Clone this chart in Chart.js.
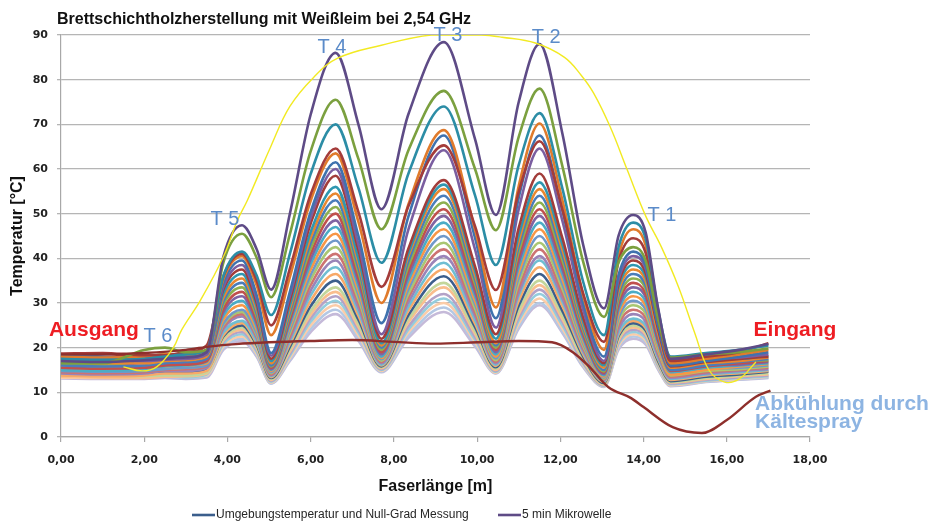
<!DOCTYPE html>
<html><head><meta charset="utf-8">
<script src="https://cdn.jsdelivr.net/npm/chart.js@4.4.1/dist/chart.umd.min.js"></script>
<style>html,body{margin:0;padding:0;background:#fff;}canvas{display:block;}</style>
</head><body>
<canvas id="c" width="933" height="529"></canvas>
<script>
// ---- Daten ----
const faserlaenge = [0,1,2,2.5,3,3.5,3.9,4.35,4.7,5.05,5.5,6.0,6.6,7.15,7.7,8.35,9.2,9.95,10.45,11.0,11.5,12.05,12.55,13.05,13.4,13.75,14.05,14.35,14.65,15.5,16.3,17.0];
const kurve01 = [17.0,16.8,17.2,17.5,17.8,19.0,40.3,47.4,42.1,33.0,50.0,72.2,86.0,69.9,51.0,72.3,88.4,66.7,49.7,75.0,88.0,67.9,43.0,28.8,45.1,49.7,45.8,28.8,17.5,18.5,19.5,20.8];
const kurve02 = [16.5,16.5,19.5,20.0,19.0,19.5,39.0,45.5,40.2,31.3,45.4,64.0,75.5,62.2,46.5,64.2,77.5,60.0,46.3,67.2,78.0,60.6,39.2,26.9,39.1,42.5,39.5,26.4,17.8,18.5,19.0,19.8];
const kurve03 = [17.5,17.3,17.5,18.0,18.5,19.5,36.0,41.5,36.2,27.3,41.0,58.9,70.0,55.7,39.0,59.0,74.0,54.1,38.5,60.9,72.5,55.6,34.7,22.8,42.5,48.0,44.4,28.5,18.0,18.8,19.5,20.5];
const kurve04 = [18.7,18.8,18.3,18.3,19.0,20.5,35.9,41.0,35.1,25.0,37.7,54.3,64.6,50.3,33.6,51.7,65.3,47.2,32.9,54.9,66.2,50.9,32.1,21.3,39.4,44.5,41.2,26.6,17.0,18.0,19.0,21.0];
const kurve05 = [18.0,17.8,18.0,18.5,18.5,19.5,35.3,40.5,34.0,22.8,35.8,52.9,63.5,48.1,30.0,52.1,68.7,46.5,29.0,56.2,70.2,53.0,31.7,19.5,40.6,46.5,42.9,27.0,16.5,17.5,18.5,19.5];
const kurve06 = [18.3,18.0,17.5,17.8,18.0,19.0,34.4,39.5,31.8,18.8,32.5,50.4,61.5,44.9,25.5,49.4,67.5,44.6,26.6,53.6,67.5,50.7,29.9,18.0,36.3,41.5,38.4,24.9,16.0,17.0,18.0,19.0];
const kurve07 = [17.8,17.5,17.0,17.3,17.5,18.5,33.5,38.5,31.0,18.2,31.6,49.1,60.0,43.0,23.0,46.5,64.2,42.0,24.5,51.0,64.6,48.4,28.4,17.0,35.3,40.5,37.7,25.1,16.8,17.5,17.8,18.5];
const kurve08 = [18.5,18.6,18.0,18.2,18.5,19.5,33.0,37.5,30.1,17.5,30.6,47.8,58.5,41.7,22.0,42.2,57.5,38.2,23.0,46.8,59.0,44.5,26.7,16.5,34.4,39.5,36.7,24.1,15.8,16.8,17.5,18.0];
const kurve09 = [17.2,17.0,17.8,18.5,18.0,18.5,32.0,36.5,29.3,17.0,29.5,45.9,56.0,39.9,21.0,41.2,56.5,37.2,22.0,45.1,57.0,43.1,25.8,16.0,33.6,38.5,35.9,24.7,17.2,17.5,17.5,18.2];
const kurve10 = [16.8,16.5,16.5,17.0,17.2,18.0,31.1,35.5,28.5,16.5,28.7,44.6,54.5,38.9,20.5,40.5,55.5,36.2,21.0,43.8,55.5,41.9,25.1,15.5,32.7,37.5,34.9,23.2,15.5,16.5,17.0,17.8];
const kurve11 = [16.0,15.8,16.0,16.5,16.8,17.5,30.3,34.5,27.7,16.0,27.8,43.4,53.0,37.8,20.0,39.4,54.0,35.2,20.5,42.6,54.0,40.7,24.4,15.0,31.8,36.5,33.9,22.5,15.0,16.0,16.8,17.5];
const kurve12 = [16.3,16.2,17.0,17.8,17.5,17.8,29.6,33.5,27.0,15.8,27.2,42.2,51.5,36.8,19.5,38.3,52.5,34.3,20.0,41.5,52.5,39.6,23.8,14.7,30.9,35.5,33.2,23.0,16.2,16.8,17.0,17.2];
const kurve13 = [15.5,15.3,15.5,16.0,16.2,17.0,28.6,32.5,26.2,15.5,26.5,41.0,50.0,35.7,19.0,37.2,51.0,33.4,19.5,40.3,51.0,38.6,23.2,14.4,30.1,34.5,32.1,21.7,14.8,15.8,16.5,17.0];
const kurve14 = [16.6,16.3,16.0,16.3,16.5,17.2,27.9,31.5,25.5,15.2,25.9,39.8,48.5,34.7,18.5,36.2,49.5,32.4,19.0,39.1,49.5,37.5,22.6,14.1,29.2,33.5,31.3,21.6,15.2,16.0,16.2,16.8];
const kurve15 = [15.0,14.8,15.2,15.8,16.0,16.8,27.1,30.5,24.8,15.0,25.2,38.7,47.0,33.7,18.0,35.1,48.0,31.5,18.5,38.0,48.0,36.4,22.0,13.8,28.4,32.5,30.3,20.8,14.5,15.5,16.0,16.5];
const kurve16 = [15.8,15.6,15.5,15.8,16.0,16.5,26.3,29.5,24.1,14.8,24.6,37.5,45.5,32.7,17.7,34.1,46.5,30.5,18.0,36.8,46.5,35.3,21.4,13.5,27.5,31.5,29.4,20.1,14.0,15.0,15.8,16.3];
const kurve17 = [14.8,14.6,14.8,15.2,15.5,16.0,25.4,28.5,23.3,14.5,23.9,36.3,44.0,31.8,17.4,33.1,45.0,29.7,17.6,35.7,45.0,34.2,20.9,13.3,26.7,30.5,28.5,19.9,14.2,15.2,15.5,16.0];
const kurve18 = [15.3,15.2,15.0,15.3,15.5,16.2,25.1,28.0,22.9,14.3,23.3,35.2,42.5,30.8,17.1,32.1,43.5,28.8,17.2,34.6,43.5,33.2,20.4,13.1,25.9,29.5,27.6,19.3,13.8,14.8,15.2,15.8];
const kurve19 = [14.5,14.3,14.5,15.0,15.2,15.8,24.6,27.5,22.5,14.0,22.6,34.0,41.0,29.9,16.8,31.2,42.0,27.9,16.8,33.4,42.0,32.1,19.9,12.9,25.1,28.5,26.7,18.8,13.5,14.5,15.0,15.5];
const kurve20 = [14.2,14.0,14.2,14.8,14.8,15.5,24.1,27.0,22.1,13.8,22.0,32.8,39.5,28.9,16.5,30.2,40.5,27.1,16.5,32.3,40.5,31.0,19.4,12.7,24.2,27.5,25.8,18.2,13.2,14.2,14.8,15.2];
const kurve21 = [15.2,15.0,14.8,15.0,15.0,15.5,23.4,26.0,21.4,13.6,21.4,31.7,38.0,28.0,16.2,29.2,39.0,26.2,16.2,31.6,39.5,30.3,19.0,12.5,23.4,26.5,24.9,17.7,13.0,14.0,14.5,15.0];
const kurve22 = [13.8,13.6,13.8,14.2,14.2,14.8,22.8,25.5,21.0,13.4,20.8,30.5,36.5,27.1,16.0,28.3,37.5,25.4,15.9,30.5,38.0,29.3,18.5,12.3,23.0,26.0,24.4,17.4,12.8,13.8,14.3,14.8];
const kurve23 = [14.6,14.4,14.3,14.5,14.5,15.0,22.5,25.0,20.6,13.2,20.2,29.3,35.0,26.2,15.8,27.3,36.0,24.6,15.6,29.4,36.5,28.2,18.0,12.1,22.6,25.5,23.9,17.0,12.5,13.5,14.0,14.6];
const kurve24 = [14.0,13.8,13.6,13.8,13.8,14.5,22.0,24.5,20.2,13.0,19.6,28.2,33.5,25.3,15.6,26.4,34.5,23.7,15.3,28.3,35.0,27.1,17.4,11.9,22.1,25.0,23.5,16.7,12.3,13.2,13.8,14.3];
const kurve25 = [13.5,13.3,13.2,13.5,13.6,14.2,21.6,24.0,19.9,12.8,19.1,27.4,32.5,24.6,15.4,25.7,33.5,23.1,15.0,27.5,34.0,26.4,17.1,11.7,21.7,24.5,23.0,16.5,12.2,13.0,13.6,14.0];
const kurve26 = [14.3,14.2,14.0,14.0,14.0,14.5,21.3,23.5,19.5,12.6,18.6,26.6,31.5,24.0,15.2,24.8,32.0,22.4,14.8,26.8,33.0,25.7,16.7,11.6,21.3,24.0,22.6,16.2,12.0,12.8,13.4,13.8];
const kurve27 = [13.8,13.6,13.5,13.8,13.4,14.0,20.8,23.0,19.1,12.4,18.2,25.8,30.5,23.4,15.0,24.1,31.0,21.8,14.6,26.1,32.0,25.0,16.4,11.5,20.9,23.5,22.1,15.9,11.8,12.6,13.2,13.6];
const kurve28 = [13.3,13.2,13.3,13.8,13.5,13.8,20.3,22.5,18.7,12.2,17.7,25.0,29.5,22.7,14.8,23.5,30.0,21.3,14.4,25.4,31.0,24.3,16.1,11.4,20.4,23.0,21.6,15.6,11.6,12.5,13.0,13.5];
const kurve29 = [13.6,13.5,13.4,13.6,13.2,13.6,19.9,22.0,18.3,12.0,17.3,24.2,28.5,22.1,14.6,22.8,29.0,20.8,14.3,24.7,30.0,23.6,15.8,11.3,20.0,22.5,21.2,15.3,11.5,12.4,12.9,13.3];
const kurve30 = [13.1,13.0,13.0,13.2,13.0,13.3,19.5,21.5,18.0,12.0,17.0,23.5,27.5,21.5,14.5,22.2,28.0,20.3,14.2,24.3,29.5,23.3,15.6,11.2,19.6,22.0,20.7,15.1,11.4,12.3,12.8,13.2];
// Abkühlung durch Kältespray (dunkelrote Kurve)
const kaelteX = [0,1,2,3,3.6,4.2,5,6,7,8,9,10,11,11.8,12.3,12.7,13.15,13.7,14.0,14.7,15.4,16.0,16.7,17.05];
const kaelteY = [18.5,18.5,18.8,19.5,20.3,20.8,21.2,21.5,21.7,21.3,20.9,21.2,21.5,21.2,19.0,15.7,11.2,8.7,6.7,2.2,0.9,3.8,9.0,10.4];
// gelbe Kurve
const gelbX = [1.5,1.95,2.3,2.7,2.9,3.35,3.9,4.24,4.48,5.04,5.5,6.07,6.65,7.7,8.9,10.1,10.6,11.4,12.1,12.5,12.8,13.2,13.6,14.05,14.43,14.84,15.23,15.57,15.95,16.3,16.7];
const gelbY = [15.7,14.8,15.7,20.0,24.0,30.6,40.3,48.5,53.0,65.0,74.0,80.5,84.8,87.7,90.0,90.0,89.5,88.2,85.0,81.0,77.0,69.4,60.0,49.5,42.5,33.6,23.3,15.0,12.3,13.0,16.8];
const xTickWerte = [0,2,4,6,8,10,12,14,16,18];
const yTickWerte = [0,10,20,30,40,50,60,70,80,90];
const kurven = [kurve01,kurve02,kurve03,kurve04,kurve05,kurve06,kurve07,kurve08,kurve09,kurve10,kurve11,kurve12,kurve13,kurve14,kurve15,kurve16,kurve17,kurve18,kurve19,kurve20,kurve21,kurve22,kurve23,kurve24,kurve25,kurve26,kurve27,kurve28,kurve29,kurve30];

// ---- Stil ----
const farben = ['#5E4B86','#7BA03F','#2C8DA6','#A43C3A','#E07B2C','#3F72AE','#7B5EA0','#A23D3A','#2F97B0','#E8872F',
  '#4A7DBA','#8DB050','#C0504D','#8064A2','#4BACC6','#F79646','#6F98C9','#A9C672','#CD7371','#9A84B8',
  '#70BED2','#F8A968','#3B5E8C','#C3D69B','#F9BE8E','#B3A2C7','#93CDDD','#FBCCA8','#B4C8E4','#C5BAD9'];
const namen = kurven.map((k,i)=> i===0 ? '5 min Mikrowelle' : (i===22 ? 'Umgebungstemperatur und Null-Grad Messung' : 'Messung ' + (30-i)));

const datasets = kurven.map((vals,i)=>({
  label: namen[i],
  data: faserlaenge.map((x,j)=>({x:x, y:vals[j]})),
  borderColor: farben[i], backgroundColor: farben[i],
  borderWidth: 2.6, pointRadius: 0, fill:false,
  cubicInterpolationMode:'monotone', order: 0
}));
datasets.push({label:'Kältespray', data: kaelteX.map((x,j)=>({x:x,y:kaelteY[j]})),
  borderColor:'#8E2F2C', borderWidth:2.4, pointRadius:0, fill:false, cubicInterpolationMode:'monotone', order:-1});
datasets.push({label:'Gelb', data: gelbX.map((x,j)=>({x:x,y:gelbY[j]})),
  borderColor:'#F2EA22', borderWidth:1.4, pointRadius:0, fill:false, tension:0.4, order:-2});

const deko = {
  id:'deko',
  beforeDraw(chart){
    const ctx = chart.ctx; ctx.save(); ctx.fillStyle='#fff'; ctx.fillRect(0,0,chart.width,chart.height); ctx.restore();
  },
  afterDraw(chart){
    const ctx = chart.ctx, xs = chart.scales.x, ys = chart.scales.y;
    const px = v => xs.getPixelForValue(v), py = v => ys.getPixelForValue(v);
    ctx.save();
    // Titel
    ctx.fillStyle = '#111';
    ctx.font = 'bold 16px "Liberation Sans", Arial, sans-serif';
    ctx.textAlign = 'left'; ctx.textBaseline = 'alphabetic';
    ctx.fillText('Brettschichtholzherstellung mit Weißleim bei 2,54 GHz', 57, 24);
    // T-Beschriftungen
    ctx.font = '20px "Liberation Sans", Arial, sans-serif';
    ctx.fillStyle = '#5B8BC9'; ctx.textAlign='center'; ctx.textBaseline='middle';
    [['T 4',6.51,87.1],['T 3',9.30,90.0],['T 2',11.66,89.5],['T 5',3.94,48.8],['T 1',14.44,49.5],['T 6',2.33,22.4]]
      .forEach(t=>ctx.fillText(t[0], px(t[1]), py(t[2])));
    ctx.font = 'bold 21px "Liberation Sans", Arial, sans-serif';
    ctx.fillStyle = '#EE1D23';
    ctx.fillText('Ausgang', px(0.79), py(24.0));
    ctx.fillText('Eingang', px(17.64), py(24.0));
    ctx.fillStyle = '#8DB4E2'; ctx.textAlign='left';
    ctx.fillText('Abkühlung durch', px(16.68), py(7.4));
    ctx.fillText('Kältespray', px(16.68), py(3.3));
    // Legende
    const leg = [[22,192,216],[0,498,522]];
    ctx.font = '12px "Liberation Sans", Arial, sans-serif';
    ctx.textBaseline='middle'; ctx.textAlign='left';
    leg.forEach(l=>{
      ctx.strokeStyle = farben[l[0]]; ctx.lineWidth = 2.6;
      ctx.beginPath(); ctx.moveTo(l[1],515); ctx.lineTo(l[1]+23,515); ctx.stroke();
      ctx.fillStyle = '#262626'; ctx.fillText(namen[l[0]], l[2], 515);
    });
    ctx.restore();
  }
};

new Chart(document.getElementById('c'), {
  type:'line',
  data:{datasets},
  plugins:[deko],
  options:{
    responsive:false, animation:false, devicePixelRatio:1,
    layout:{padding:{top:35,right:123,left:0,bottom:0}},
    plugins:{legend:{display:false}, tooltip:{enabled:false}, title:{display:false}},
    scales:{
      x:{type:'linear', min:0, max:18,
        afterBuildTicks: s => { s.ticks = xTickWerte.map(v=>({value:v})); },
        afterFit: s => { s.height = 92; },
        ticks:{callback: v => Number(v).toFixed(2).replace('.', ','), autoSkip:false, maxRotation:0,
          font:{family:'DejaVu Sans', weight:'bold', size:11}, color:'#222', padding:12},
        grid:{drawOnChartArea:false, drawTicks:true, tickLength:5, color:'#A8A8A8', lineWidth:1.2},
        border:{display:true, color:'#A8A8A8', width:1.2},
        title:{display:true, text:'Faserlänge [m]', color:'#111',
          font:{family:'Liberation Sans', weight:'bold', size:16}, padding:{top:0,bottom:33}}
      },
      y:{min:0, max:90,
        afterBuildTicks: s => { s.ticks = yTickWerte.map(v=>({value:v})); },
        afterFit: s => { s.width = 61; },
        ticks:{font:{family:'DejaVu Sans', weight:'bold', size:11}, color:'#222', padding:9},
        grid:{color:'#B5B5B5', lineWidth:1.3, tickLength:4, drawTicks:true},
        border:{display:true, color:'#A8A8A8', width:1.2},
        title:{display:true, text:'Temperatur [°C]', color:'#111',
          font:{family:'Liberation Sans', weight:'bold', size:16}, padding:{top:8,bottom:0}}
      }
    }
  }
});
</script>
</body></html>
